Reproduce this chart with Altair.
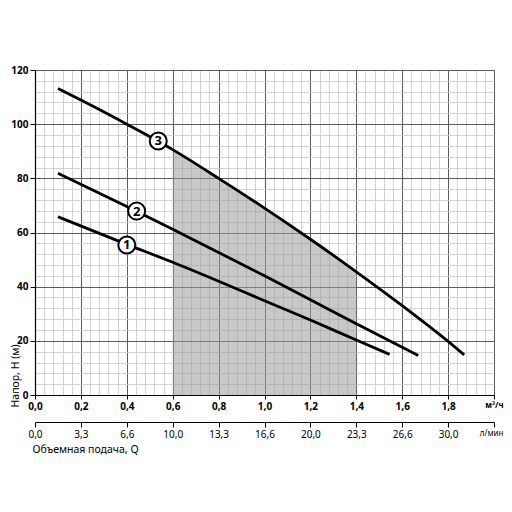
import json
import altair as alt
import pandas as pd

# ---- data ----
Q1 = [0.10, 0.40, 0.60, 0.80, 1.00, 1.20, 1.40, 1.545]
H1 = [65.8, 55.6, 49.0, 42.0, 34.8, 27.7, 20.3, 15.0]

Q2 = [0.10, 0.40, 0.60, 0.80, 1.00, 1.20, 1.40, 1.60, 1.67]
H2 = [81.9, 69.6, 61.2, 52.6, 44.0, 35.2, 26.3, 17.6, 14.6]

Q3 = [0.10, 0.20, 0.40, 0.60, 0.80, 1.00, 1.20, 1.40, 1.60, 1.80, 1.87]
H3 = [113.2, 108.9, 100.0, 90.6, 80.0, 69.0, 57.5, 45.5, 33.0, 19.8, 14.8]

SHADE_FROM, SHADE_TO = 0.6, 1.4

LABEL_TEXT = ["1", "2", "3"]
LABEL_Q = [0.40, 0.443, 0.537]
LABEL_H = [55.4, 67.9, 93.8]

X_TICKS = [0.0, 0.2, 0.4, 0.6, 0.8, 1.0, 1.2, 1.4, 1.6, 1.8, 2.0]
X_LABELS_M3H = ["0,0", "0,2", "0,4", "0,6", "0,8", "1,0", "1,2", "1,4", "1,6", "1,8", "м³/ч"]
X_LABELS_LMIN = ["0,0", "3,3", "6,6", "10,0", "13,3", "16,6", "20,0", "23,3", "26,6", "30,0", "л/мин"]
Y_TICKS = [0, 20, 40, 60, 80, 100, 120]
X_MINOR = [round(i * 0.04, 2) for i in range(51)]
Y_MINOR = [i * 4 for i in range(31)]

FONT = "Noto Sans"

curves = pd.DataFrame(
    {"q": Q1 + Q2 + Q3,
     "h": H1 + H2 + H3,
     "curve": ["1"] * len(Q1) + ["2"] * len(Q2) + ["3"] * len(Q3)}
)
shade = pd.DataFrame({"q": Q3, "h": H3})
shade = shade[(shade.q >= SHADE_FROM - 1e-9) & (shade.q <= SHADE_TO + 1e-9)]
labels = pd.DataFrame({"q": LABEL_Q, "h": LABEL_H, "t": LABEL_TEXT})

xs = alt.Scale(domain=[0, 2], nice=False)
ys = alt.Scale(domain=[0, 120], nice=False)


def lab_expr(lst):
    return json.dumps(lst, ensure_ascii=False) + "[round(datum.value*5)]"


unit_test = "datum.value > 1.99"
unit_size = {"condition": {"test": unit_test, "value": 8}, "value": 10}
unit_align = {"condition": {"test": unit_test, "value": "right"}, "value": "center"}
unit_offset = {"condition": {"test": unit_test, "value": 9}, "value": 0}

# minor grid + shaded working range
area = alt.Chart(shade).mark_area(color="#9a9a9a", opacity=0.55, interpolate="monotone").encode(
    x=alt.X("q:Q", scale=xs, axis=alt.Axis(values=X_MINOR, grid=True, gridColor="#c8c8c8",
                                           gridWidth=0.8, labels=False, ticks=False,
                                           domain=False, title=None, orient="bottom")),
    y=alt.Y("h:Q", scale=ys, axis=alt.Axis(values=Y_MINOR, grid=True, gridColor="#c8c8c8",
                                           gridWidth=0.8, labels=False, ticks=False,
                                           domain=False, title=None, orient="left")),
)

lines = alt.Chart(curves).mark_line(color="black", strokeWidth=2.8, interpolate="monotone").encode(
    x=alt.X("q:Q", scale=xs, axis=alt.Axis(
        values=X_TICKS, grid=True, gridColor="#5c5c5c", gridWidth=1, orient="bottom",
        labelExpr=lab_expr(X_LABELS_M3H), labelFont=FONT, labelFontWeight="bold",
        labelFontSize=unit_size, labelAlign=unit_align, labelOffset=unit_offset,
        labelColor="black", labelPadding=2,
        labelFlush=False, labelOverlap=False,
        tickColor="black", tickSize=4, domainColor="black", domainWidth=1.2,
        title=None)),
    y=alt.Y("h:Q", scale=ys, axis=alt.Axis(
        values=Y_TICKS, grid=True, gridColor="#5c5c5c", gridWidth=1, orient="left",
        labelFont=FONT, labelFontWeight="bold", labelFontSize=10, labelColor="black",
        labelPadding=2, tickColor="black", tickSize=5, domainColor="black", domainWidth=1.2,
        title="Напор, H (м)", titleFont=FONT, titleFontWeight="normal", titleFontSize=10.5,
        titleColor="black", titleAngle=270, titleAlign="left", titleBaseline="middle",
        titleX=-20, titleY=337)),
    detail="curve:N",
)

circles = alt.Chart(labels).mark_point(
    shape="circle", filled=True, fill="white", stroke="black", strokeWidth=2,
    size=290, opacity=1
).encode(
    x=alt.X("q:Q", scale=xs, axis=alt.Axis(
        values=X_TICKS, grid=False, offset=27, orient="bottom",
        labelExpr=lab_expr(X_LABELS_LMIN), labelFont=FONT, labelFontWeight="normal",
        labelFontSize=unit_size, labelAlign=unit_align, labelOffset=unit_offset,
        labelColor="black", labelPadding=2,
        labelFlush=False, labelOverlap=False,
        tickColor="black", tickSize=5, domainColor="black", domainWidth=1.2,
        title="Объемная подача, Q", titleFont=FONT, titleFontWeight="normal",
        titleFontSize=10.5, titleColor="black", titleAlign="left", titleBaseline="top",
        titleX=-3, titleY=22)),
    y=alt.Y("h:Q", scale=ys, axis=None),
)

texts = alt.Chart(labels).mark_text(
    font=FONT, fontWeight="bold", fontSize=13, color="black", baseline="middle", dy=0.5
).encode(
    x=alt.X("q:Q", scale=xs, axis=None),
    y=alt.Y("h:Q", scale=ys, axis=None),
    text="t:N",
)

chart = (
    alt.layer(area, lines, circles, texts)
    .resolve_axis(x="independent", y="independent")
    .properties(width=459, height=325,
                autosize=alt.AutoSizeParams(type="none"),
                padding={"left": 27, "top": 62, "right": 10, "bottom": 60})
    .configure_view(stroke=None)
)

chart.save("out.html", embed_options={"renderer": "svg", "actions": False})
